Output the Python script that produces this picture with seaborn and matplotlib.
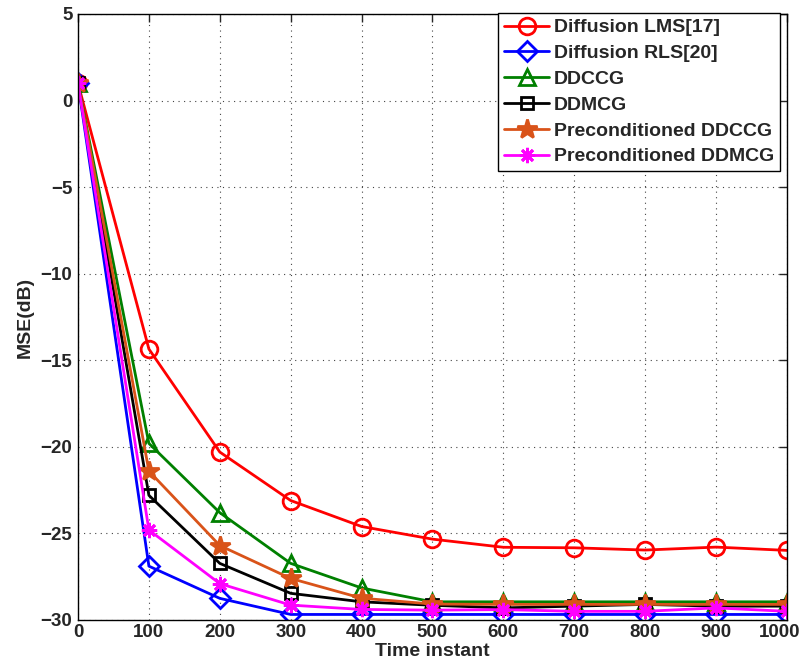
import numpy as np
import pandas as pd
import seaborn as sns
import matplotlib
matplotlib.use("Agg")
import matplotlib.pyplot as plt
from matplotlib.transforms import ScaledTranslation

# Time instants and MSE curves (dB)
time_instant = [0, 100, 200, 300, 400, 500, 600, 700, 800, 900, 1000]
mse_lms = [1.0, -14.35, -20.3, -23.1, -24.6, -25.33, -25.8, -25.83, -25.96, -25.79, -25.98]
mse_rls = [1.0, -26.89, -28.75, -29.68, -29.68, -29.68, -29.68, -29.68, -29.68, -29.68, -29.68]
mse_ddccg = [1.0, -19.8, -23.8, -26.73, -28.15, -28.95, -28.95, -28.95, -28.95, -28.95, -28.95]
mse_ddmcg = [1.0, -22.8, -26.73, -28.46, -28.95, -29.15, -29.3, -29.2, -29.1, -29.2, -29.2]
mse_pddccg = [1.0, -21.4, -25.7, -27.6, -28.74, -29.08, -29.1, -29.1, -29.1, -29.1, -29.1]
mse_pddmcg = [1.0, -24.8, -27.9, -29.14, -29.39, -29.43, -29.4, -29.5, -29.5, -29.3, -29.5]

series_names = ["Diffusion LMS[17]", "Diffusion RLS[20]", "DDCCG", "DDMCG",
                "Preconditioned DDCCG", "Preconditioned DDMCG"]
series_values = [mse_lms, mse_rls, mse_ddccg, mse_ddmcg, mse_pddccg, mse_pddmcg]

colors = ["#FF0000", "#0000FF", "#008000", "#000000", "#D95319", "#FF00FF"]
markers = ["o", "D", "^", "s", "*", (8, 2, 0)]
msizes = [12, 10, 12, 9, 15, 11]
filled = [False, False, False, False, True, True]

sns.set_style("white")
plt.rcParams["font.family"] = ["Liberation Sans", "DejaVu Sans"]
plt.rcParams["font.weight"] = "bold"
plt.rcParams["axes.unicode_minus"] = True

fig = plt.figure(figsize=(8.03, 6.61), dpi=100)
ax = fig.add_axes([78 / 803, 1 - 620 / 661, (787 - 78) / 803, (620 - 14) / 661])

df = pd.DataFrame({"t": time_instant})
for name, vals, c, m, ms, f in zip(series_names, series_values, colors, markers, msizes, filled):
    df[name] = vals
    sns.lineplot(x="t", y=name, data=df, ax=ax, color=c, marker=m, markersize=ms,
                 linewidth=2, markeredgewidth=2, markeredgecolor=c,
                 markerfacecolor=(c if f else "none"), label=name)

ax.set_xlim(0, 1000)
ax.set_ylim(-30, 5)
ax.set_xticks(np.arange(0, 1001, 100))
ax.set_yticks(np.arange(-30, 6, 5))
ax.grid(True, linestyle=(0, (1, 4)), color="#444444", linewidth=0.8)
ax.tick_params(direction="in", length=6, width=1, top=True, right=True,
               labelsize=13.5, pad=4)
ax.tick_params(axis="x", pad=3)
for lab in ax.get_xticklabels() + ax.get_yticklabels():
    lab.set_fontweight("bold")
# keep the last x tick label inside the figure
last = ax.get_xticklabels()[-1]
last.set_transform(last.get_transform() + ScaledTranslation(-7 / 100, 0, fig.dpi_scale_trans))
for sp in ax.spines.values():
    sp.set_color("black")
    sp.set_linewidth(1)

ax.set_xlabel("Time instant", fontsize=14, fontweight="bold", va="top")
ax.xaxis.set_label_coords(0.5, -0.038)
ax.set_ylabel("MSE(dB)", fontsize=14, fontweight="bold")
ax.yaxis.set_label_coords(-0.063, 0.5)

leg = ax.legend(loc="upper right", bbox_to_anchor=(780 / 803, 1 - 13 / 661),
                bbox_transform=fig.transFigure, fontsize=14, frameon=True,
                fancybox=False, framealpha=1, edgecolor="black", borderpad=0.3,
                labelspacing=0.42, handlelength=2.3, handletextpad=0.25,
                borderaxespad=0)
leg.get_frame().set_linewidth(1)
for t in leg.get_texts():
    t.set_fontweight("bold")

fig.savefig("out.png", dpi=100)
